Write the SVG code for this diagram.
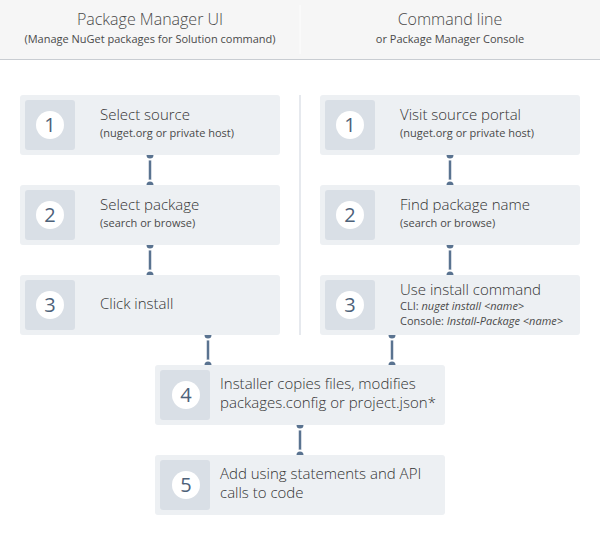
<svg xmlns="http://www.w3.org/2000/svg" width="600" height="550" viewBox="0 0 600 550">
<style>
text{font-family:"Open Sans","Noto Sans","DejaVu Sans",sans-serif;}
.hdr{font-size:16px;font-weight:300;fill:#4a4a4a;text-anchor:middle;}
.hsub{font-size:11px;fill:#4a4a4a;text-anchor:middle;}
.box{fill:#edf0f3;}
.sq{fill:#d9dfe6;}
.circ{fill:#fff;}
.num{font-size:20px;fill:#4d6179;text-anchor:middle;}
.t{font-size:15px;font-weight:300;fill:#333;}
.s{font-size:11px;fill:#4a4a4a;}
.i{font-style:italic;}
.con{stroke:#5a7390;stroke-width:2.5;fill:none;}
.dot{fill:#5a7390;stroke:#fff;stroke-width:2;}
</style>
<rect x="0" y="0" width="600" height="59" fill="#f6f6f6"/>
<line x1="0" y1="59.5" x2="600" y2="59.5" stroke="#c9cdd2" stroke-width="1"/>
<line x1="300" y1="5" x2="300" y2="54" stroke="#fdfdfd" stroke-width="1"/>
<line x1="300" y1="95" x2="300" y2="335" stroke="#e6e9ee" stroke-width="2"/>
<g id="header-left">
<text class="hdr" x="150" y="25">Package Manager UI</text>
<text class="hsub" x="150" y="43">(Manage NuGet packages for Solution command)</text>
</g>
<g id="header-right">
<text class="hdr" x="450" y="25">Command line</text>
<text class="hsub" x="450" y="43">or Package Manager Console</text>
</g>
<g id="connectors">
<line class="con" x1="150" y1="155" x2="150" y2="185"/>
<circle class="dot" cx="150" cy="155" r="4.5"/><circle class="dot" cx="150" cy="185" r="4.5"/>
<line class="con" x1="150" y1="245" x2="150" y2="275"/>
<circle class="dot" cx="150" cy="245" r="4.5"/><circle class="dot" cx="150" cy="275" r="4.5"/>
<line class="con" x1="450" y1="155" x2="450" y2="185"/>
<circle class="dot" cx="450" cy="155" r="4.5"/><circle class="dot" cx="450" cy="185" r="4.5"/>
<line class="con" x1="450" y1="245" x2="450" y2="275"/>
<circle class="dot" cx="450" cy="245" r="4.5"/><circle class="dot" cx="450" cy="275" r="4.5"/>
<line class="con" x1="208" y1="335" x2="208" y2="365"/>
<circle class="dot" cx="208" cy="335" r="4.5"/><circle class="dot" cx="208" cy="365" r="4.5"/>
<line class="con" x1="392" y1="335" x2="392" y2="365"/>
<circle class="dot" cx="392" cy="335" r="4.5"/><circle class="dot" cx="392" cy="365" r="4.5"/>
<line class="con" x1="300" y1="425" x2="300" y2="455"/>
<circle class="dot" cx="300" cy="425" r="4.5"/><circle class="dot" cx="300" cy="455" r="4.5"/>
</g>
<g id="l1">
<rect class="box" x="20" y="95" width="260" height="60" rx="3"/>
<rect class="sq" x="25" y="100" width="50" height="50" rx="3"/>
<circle class="circ" cx="50" cy="125" r="14"/>
<text class="num" x="50" y="132">1</text>
<text class="t" x="100" y="120">Select source</text>
<text class="s" x="100" y="137">(nuget.org or private host)</text>
</g>
<g id="l2">
<rect class="box" x="20" y="185" width="260" height="60" rx="3"/>
<rect class="sq" x="25" y="190" width="50" height="50" rx="3"/>
<circle class="circ" cx="50" cy="215" r="14"/>
<text class="num" x="50" y="222">2</text>
<text class="t" x="100" y="210">Select package</text>
<text class="s" x="100" y="227">(search or browse)</text>
</g>
<g id="l3">
<rect class="box" x="20" y="275" width="260" height="60" rx="3"/>
<rect class="sq" x="25" y="280" width="50" height="50" rx="3"/>
<circle class="circ" cx="50" cy="305" r="14"/>
<text class="num" x="50" y="312">3</text>
<text class="t" x="100" y="309">Click install</text>
</g>
<g id="r1">
<rect class="box" x="320" y="95" width="260" height="60" rx="3"/>
<rect class="sq" x="325" y="100" width="50" height="50" rx="3"/>
<circle class="circ" cx="350" cy="125" r="14"/>
<text class="num" x="350" y="132">1</text>
<text class="t" x="400" y="120">Visit source portal</text>
<text class="s" x="400" y="137">(nuget.org or private host)</text>
</g>
<g id="r2">
<rect class="box" x="320" y="185" width="260" height="60" rx="3"/>
<rect class="sq" x="325" y="190" width="50" height="50" rx="3"/>
<circle class="circ" cx="350" cy="215" r="14"/>
<text class="num" x="350" y="222">2</text>
<text class="t" x="400" y="210">Find package name</text>
<text class="s" x="400" y="227">(search or browse)</text>
</g>
<g id="r3">
<rect class="box" x="320" y="275" width="260" height="60" rx="3"/>
<rect class="sq" x="325" y="280" width="50" height="50" rx="3"/>
<circle class="circ" cx="350" cy="305" r="14"/>
<text class="num" x="350" y="312">3</text>
<text class="t" x="400" y="295">Use install command</text>
<text class="s" x="400" y="310">CLI: <tspan class="i">nuget install &lt;name&gt;</tspan></text>
<text class="s" x="400" y="325">Console: <tspan class="i">Install-Package &lt;name&gt;</tspan></text>
</g>
<g id="n4">
<rect class="box" x="155" y="365" width="290" height="60" rx="3"/>
<rect class="sq" x="160" y="370" width="50" height="50" rx="3"/>
<circle class="circ" cx="186" cy="395" r="14"/>
<text class="num" x="186" y="402">4</text>
<text class="t" x="220" y="389">Installer copies files, modifies</text>
<text class="t" x="220" y="408">packages.config or project.json*</text>
</g>
<g id="n5">
<rect class="box" x="155" y="455" width="290" height="60" rx="3"/>
<rect class="sq" x="160" y="460" width="50" height="50" rx="3"/>
<circle class="circ" cx="186" cy="485" r="14"/>
<text class="num" x="186" y="492">5</text>
<text class="t" x="220" y="479">Add using statements and API</text>
<text class="t" x="220" y="498">calls to code</text>
</g>
</svg>
